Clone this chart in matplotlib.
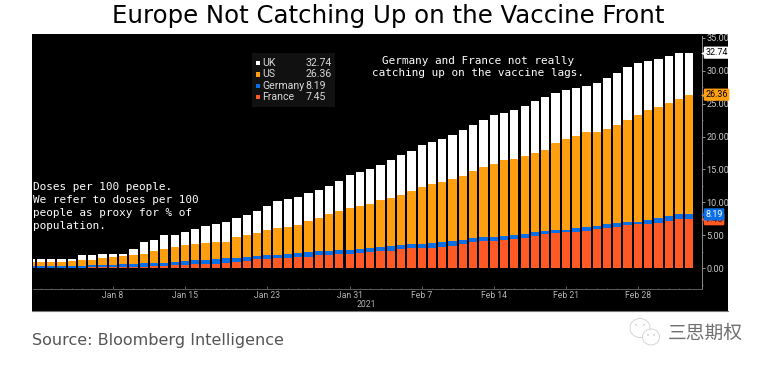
import matplotlib
matplotlib.use("Agg")
from matplotlib import pyplot as plt
from matplotlib.patches import Ellipse, Rectangle
from matplotlib.ticker import FixedLocator, MultipleLocator
import matplotlib.dates as mdates
import pandas as pd

W, H = 767, 365

# daily values, first bar is cut by the panel edge
dates = pd.date_range("2020-12-31", periods=65)
uk = [1.42, 1.42, 1.42, 1.42, 1.42, 1.97, 1.97, 2.2, 2.2, 2.2, 3.0, 3.95, 4.25, 5.0, 5.0, 5.45,
      5.95, 6.43, 6.73, 7.03, 7.6, 8.15, 8.7, 9.4, 10.17, 10.5, 10.9, 11.4, 11.85, 12.5, 13.2,
      14.1, 14.6, 15.15, 15.75, 16.45, 17.15, 17.85, 18.67, 19.1, 19.65, 20.25, 20.95, 21.7,
      22.5, 23.3, 23.65, 24.1, 24.65, 25.35, 26.05, 26.65, 27.1, 27.35, 27.7, 28.2, 28.95,
      29.7, 30.5, 31.1, 31.45, 31.8, 32.2, 32.74, 32.74]
us = [0.95, 0.96, 1.0, 1.0, 1.06, 1.2, 1.3, 1.5, 1.7, 1.8, 2.0, 2.2, 2.6, 2.95, 3.2, 3.5,
      3.75, 3.85, 4.0, 4.0, 4.75, 5.05, 5.4, 5.85, 6.1, 6.3, 6.6, 7.2, 7.7, 8.2, 8.7,
      9.1, 9.45, 9.8, 10.3, 10.7, 11.15, 11.8, 12.35, 12.8, 13.15, 13.55, 14.0, 14.7,
      15.35, 15.9, 16.45, 16.65, 17.1, 17.45, 17.95, 19.05, 19.6, 20.1, 20.7, 20.75, 21.2,
      21.7, 22.5, 23.3, 24.0, 24.55, 25.1, 25.7, 26.36]
germany = [0.4, 0.4, 0.3, 0.35, 0.4, 0.4, 0.45, 0.55, 0.55, 0.65, 0.65, 0.75, 0.8, 0.85, 0.95, 1.15,
           1.25, 1.27, 1.4, 1.5, 1.55, 1.65, 1.85, 1.95, 1.95, 2.15, 2.3, 2.4, 2.55, 2.65, 2.8,
           2.8, 2.95, 3.1, 3.25, 3.4, 3.55, 3.75, 3.75, 3.9, 4.0, 4.15, 4.35, 4.55,
           4.7, 4.7, 4.95, 5.1, 5.25, 5.45, 5.65, 5.85, 5.85, 6.1, 6.25, 6.45, 6.7,
           6.85, 7.05, 7.05, 7.4, 7.65, 7.95, 8.19, 8.19]
france = [0.1, 0.1, 0.1, 0.1, 0.1, 0.1, 0.15, 0.15, 0.15, 0.2, 0.2, 0.25, 0.3, 0.4, 0.45, 0.55,
          0.6, 0.6, 0.7, 0.8, 1.0, 1.15, 1.4, 1.4, 1.55, 1.6, 1.75, 1.75, 2.0, 2.0, 2.2,
          2.2, 2.3, 2.4, 2.55, 2.7, 2.9, 3.1, 3.15, 3.15, 3.3, 3.45, 3.7, 3.95,
          4.15, 4.2, 4.3, 4.4, 4.65, 4.9, 5.2, 5.4, 5.5, 5.5, 5.7, 5.9, 6.1,
          6.3, 6.6, 6.75, 6.75, 6.95, 7.2, 7.45, 7.45]

names = ["UK", "US", "Germany", "France"]
latest = [32.74, 26.36, 8.19, 7.45]
colors = ["#ffffff", "#ff9f10", "#0a6ee6", "#ff5a26"]
tag_text = ["black", "black", "white", "#3a1000"]

y_ticks = [0, 5, 10, 15, 20, 25, 30, 35]
x_tick_days = ["2021-01-08", "2021-01-15", "2021-01-23", "2021-01-31",
               "2021-02-07", "2021-02-14", "2021-02-21", "2021-02-28"]
x_tick_labels = ["Jan 8", "Jan 15", "Jan 23", "Jan 31", "Feb 7", "Feb 14", "Feb 21", "Feb 28"]

fig = plt.figure(figsize=(W / 100, H / 100), dpi=100, facecolor="white")

# page layer in pixel coordinates
page = fig.add_axes([0, 0, 1, 1])
page.set_xlim(0, W)
page.set_ylim(H, 0)
page.axis("off")
panel = Rectangle((32, 34), 696, 277, facecolor="black", edgecolor="none")
page.add_patch(panel)
page.plot([32, 728], [311, 311], color="#777777", lw=0.8)

page.text(388.5, 16, "Europe Not Catching Up on the Vaccine Front", ha="center", va="center",
          fontsize=17.6, color="black")
page.text(32, 341, "Source: Bloomberg Intelligence", ha="left", va="center",
          fontsize=11.55, color="#555555")

# notes on the chart
mono = dict(family="DejaVu Sans Mono", fontsize=7.9, color="white", va="center")
page.text(478, 60.7, "Germany and France not really", ha="center", **mono)
page.text(478, 73.3, "catching up on the vaccine lags.", ha="center", **mono)
note = ["Doses per 100 people.", "We refer to doses per 100", "people as proxy for % of", "population."]
for line, ypos in zip(note, [187.3, 200.4, 213.3, 226.2]):
    page.text(33, ypos, line, ha="left", **mono)

# legend box
page.add_patch(Rectangle((251.7, 52.7), 83.3, 54.6, facecolor="#111111", edgecolor="none"))
for name, val, col, ypos in zip(names, latest, colors, [63, 74.3, 85.7, 97]):
    page.add_patch(Rectangle((256, ypos - 2.2), 4.4, 4.4, facecolor=col, edgecolor="none"))
    page.text(262.5, ypos, name, family="Roboto", fontsize=7.6, color="#d8d8d8", ha="left", va="center")
    page.text(305.5, ypos, f"{val:.2f}", family="Roboto", fontsize=7.6, color="#d8d8d8", ha="left", va="center")

# watermark
for cx, cy, w, h in [(640, 328, 20, 19), (651, 337, 17, 16)]:
    page.add_patch(Ellipse((cx, cy), w, h, facecolor="white", edgecolor="#cfcfcf", lw=0.6))
for cx, cy in [(636, 325), (644, 325), (648, 335), (654, 335)]:
    page.add_patch(Ellipse((cx, cy), 1.6, 1.6, facecolor="#bdbdbd", edgecolor="none"))
page.text(668, 333, "三思期权", family=["Noto Sans CJK SC", "DejaVu Sans"], fontsize=13.5,
          color="#707070", ha="left", va="center")

# chart
left, right, top, bottom = 33, 701.7, 36, 289.3
ax = fig.add_axes([left / W, 1 - bottom / H, (right - left) / W, (bottom - top) / H])
ax.patch.set_visible(False)
xs = mdates.date2num(dates)
for vals, col in zip([uk, us, germany, france], colors):
    ax.bar(xs, vals, width=0.8, color=col, linewidth=0)

ax.set_xlim(xs[1] - 0.758, xs[1] + 64.2)
ax.set_ylim(-3.19, 35.27)

for side in ["left", "top"]:
    ax.spines[side].set_visible(False)
ax.spines["right"].set_color("#8a8a8a")
ax.spines["right"].set_linewidth(0.7)
ax.spines["bottom"].set_color("#5e5e5e")
ax.spines["bottom"].set_linewidth(0.7)

ax.yaxis.tick_right()
ax.set_yticks(y_ticks)
ax.set_yticklabels([f"{v:.2f}" for v in y_ticks], family="Roboto", fontsize=6.6, color="#c8c8c8")
ax.yaxis.set_minor_locator(MultipleLocator(2.5))
ax.tick_params(axis="y", which="major", length=2, width=0.6, color="#aaaaaa", pad=1.5)
ax.tick_params(axis="y", which="minor", length=1, width=0.5, color="#888888")
for lbl in ax.get_yticklabels():
    lbl.set_clip_box(panel.get_window_extent(fig.canvas.get_renderer()))
    lbl.set_clip_on(True)

ax.set_xticks(mdates.date2num(pd.to_datetime(x_tick_days)))
ax.set_xticklabels(x_tick_labels, family="Roboto", fontsize=6.2, color="#b4b4b4")
ax.xaxis.set_minor_locator(FixedLocator(xs))
ax.tick_params(axis="x", which="major", length=2, width=0.5, color="#888888", direction="in", pad=1.2)
ax.tick_params(axis="x", which="minor", length=1, width=0.4, color="#777777", direction="in")
page.text(366, 304.5, "2021", family="Roboto", fontsize=6.2, color="#b4b4b4", ha="center", va="center")

# value tags on the right axis, France first so Germany sits over it
trans = ax.get_yaxis_transform()
for i in [0, 1, 3, 2]:
    ax.text(1.0055, latest[i], f"{latest[i]:.2f}", transform=trans, family="Roboto", fontsize=6.4,
            color=tag_text[i], ha="left", va="center", clip_on=False, zorder=5,
            bbox=dict(boxstyle="round,pad=0.18,rounding_size=0.15", facecolor=colors[i], edgecolor="none"))
    ax.plot([1.002], [latest[i]], marker="<", ms=3.5, color=colors[i], mew=0, transform=trans,
            clip_on=False, zorder=5)

fig.savefig("out.png", dpi=100, facecolor="white")
